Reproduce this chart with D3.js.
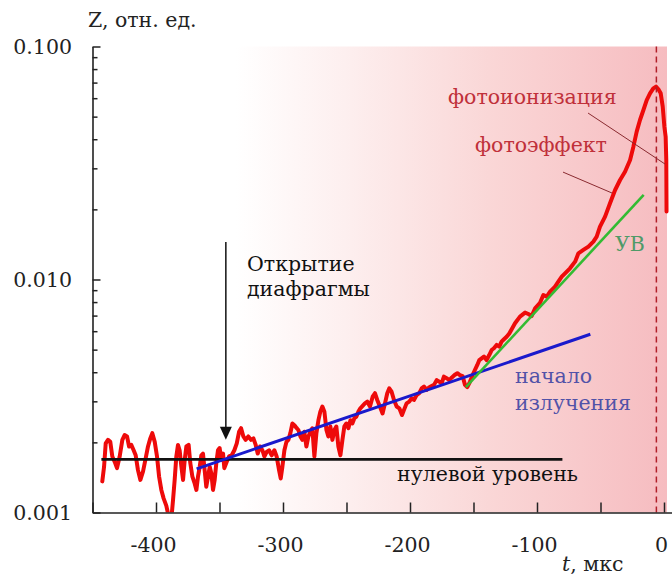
<!DOCTYPE html>
<html>
<head>
<meta charset="utf-8">
<script src="https://cdn.jsdelivr.net/npm/d3@7"></script>
<style>
  html, body { margin: 0; padding: 0; background: #fff; }
  svg { display: block; }
</style>
</head>
<body>
<svg id="chart" width="672" height="575"></svg>
<script>
// ---- data ----
const redT = [-442.3,-440.9,-439.6,-437.8,-436.0,-434.4,-432.5,-430.7,-428.6,-426.5,-424.7,-422.8,-421.2,-419.4,-417.6,-416.0,-414.2,-412.3,-410.2,-408.1,-406.3,-404.5,-402.9,-401.0,-399.2,-397.6,-395.8,-394.0,-391.9,-389.8,-387.9,-386.6,-385.3,-384.0,-382.7,-381.4,-380.0,-378.7,-377.4,-376.1,-374.3,-373.0,-371.4,-369.5,-368.2,-366.9,-365.6,-364.3,-363.0,-361.7,-360.4,-359.0,-357.7,-356.4,-355.1,-353.8,-352.5,-351.2,-349.9,-348.5,-347.2,
-346.2,-344.3,-342.5,-340.4,-338.3,-336.4,-334.6,-333.0,-331.2,-329.4,-327.3,-325.2,-323.3,-321.5,-319.9,-318.1,-316.2,-314.7,-312.8,-311.0,-308.9,-306.8,-305.0,-303.1,-301.8,-300.5,-298.9,-297.3,-295.8,-294.2,-292.6,-291.0,-289.2,-287.9,-286.3,-284.7,-283.2,-281.6,-280.0,-278.4,-276.9,-275.3,-273.7,-272.1,-270.6,-269.0,-267.4,-265.8,-264.3,-262.7,-261.1,-259.5,-258.0,-256.4,-254.8,-253.2,-251.7,-250.1,-248.5,-246.9,-245.4,-243.8,-242.2,-240.6,-239.1,
-235.5,-233.6,-231.5,-229.4,-227.6,-225.8,-223.7,-221.6,-219.7,-217.9,-216.3,-214.5,-212.6,-210.5,-208.4,-206.3,-204.8,-202.7,-200.6,-198.7,-196.9,-194.8,-192.7,-190.8,-189.0,-186.9,-184.8,-183.0,-181.1,-179.0,-176.9,-175.1,-173.3,-171.2,-169.1,-167.0,-164.9,-162.7,-160.7,-158.6,-156.7,-154.9,-152.8,-150.7,-148.9,-147.0,-145.4,-143.6,-141.8,-139.7,-137.6,-135.7,-133.9,-131.8,-129.7,-127.9,-126.0,-123.9,-121.8,
-117.3,-113.4,-109.4,-106.8,-104.2,-101.5,-97.6,-95.0,-92.3,-89.7,-85.8,-83.2,-80.5,-77.9,-74.0,-70.0,-67.4,-63.5,-59.5,-55.6,-53.0,-50.4,-46.4,-42.5,-38.5,-34.6,-30.7,-26.7,-24.1,-21.5,-18.9,-16.2,-13.6,-11.0,-8.4,-6.3,-4.4,-2.6,-1.0,0.3,1.3,1.8,2.0];
const redZ = [0.00136,0.00157,0.00198,0.00205,0.00201,0.00174,0.00165,0.00155,0.00174,0.00205,0.00215,0.00212,0.00192,0.00195,0.00185,0.00176,0.00152,0.00138,0.00150,0.00171,0.00192,0.00208,0.00219,0.00201,0.00174,0.00143,0.00125,0.00115,0.00107,0.00095,0.00094,0.00113,0.00138,0.00174,0.00195,0.00185,0.00157,0.00138,0.00168,0.00192,0.00195,0.00163,0.00143,0.00133,0.00125,0.00143,0.00157,0.00176,0.00179,0.00152,0.00129,0.00143,0.00157,0.00147,0.00125,0.00138,0.00163,0.00185,0.00189,0.00168,0.00179,
0.00155,0.00165,0.00174,0.00176,0.00185,0.00198,0.00222,0.00230,0.00212,0.00205,0.00212,0.00205,0.00208,0.00195,0.00179,0.00192,0.00185,0.00174,0.00182,0.00185,0.00176,0.00185,0.00174,0.00152,0.00140,0.00157,0.00185,0.00201,0.00205,0.00219,0.00241,0.00237,0.00230,0.00226,0.00212,0.00205,0.00222,0.00192,0.00212,0.00222,0.00230,0.00174,0.00219,0.00249,0.00271,0.00285,0.00271,0.00226,0.00212,0.00234,0.00205,0.00226,0.00234,0.00192,0.00176,0.00205,0.00234,0.00241,0.00230,0.00249,0.00241,0.00254,0.00258,0.00271,0.00280,
0.00294,0.00299,0.00285,0.00314,0.00325,0.00304,0.00285,0.00266,0.00294,0.00325,0.00341,0.00330,0.00304,0.00285,0.00280,0.00262,0.00275,0.00294,0.00299,0.00309,0.00304,0.00319,0.00325,0.00341,0.00347,0.00336,0.00345,0.00349,0.00353,0.00370,0.00364,0.00358,0.00383,0.00377,0.00370,0.00380,0.00389,0.00396,0.00389,0.00385,0.00353,0.00345,0.00364,0.00389,0.00409,0.00430,0.00451,0.00459,0.00467,0.00451,0.00474,0.00498,0.00507,0.00524,0.00515,0.00541,0.00554,0.00568,0.00587,
0.00649,0.00693,0.00721,0.00711,0.00697,0.00752,0.00795,0.00858,0.00844,0.00887,0.00932,0.00979,0.01028,0.01063,0.01117,0.01193,0.01295,0.01339,0.01384,0.01453,0.01527,0.01686,0.01861,0.02123,0.02422,0.02673,0.02902,0.03258,0.03716,0.0431,0.04837,0.0534,0.0589,0.06295,0.06613,0.06724,0.06548,0.06295,0.05519,0.04529,0.04103,0.0326,0.0196];

const zeroT = [-443, -80];        const zeroZ = [0.00169, 0.00169];
const blueT = [-368, -58];        const blueZ = [0.00154, 0.00582];
const greenT = [-156, -16];       const greenZ = [0.00345, 0.0231];
const markerT = -6;               // dashed vertical line
const arrowT = -345;              const arrowZ = [0.0145, 0.00205];
const leader1T = [-59.8, 0.8];    const leader1Z = [0.0518, 0.0313];
const leader2T = [-79.5, -40.9];  const leader2Z = [0.0289, 0.0235];

const xTicks = [-450,-400,-350,-300,-250,-200,-150,-100,-50,0];
const xLabels = [-400,-300,-200,-100,0];
const yMajor = [0.001, 0.01, 0.1];
const yLabels = ["0.001", "0.010", "0.100"];
const yMinor = [0.002,0.003,0.004,0.005,0.006,0.007,0.008,0.009,0.02,0.03,0.04,0.05,0.06,0.07,0.08,0.09];

// ---- drawing ----
const FONT = "DejaVu Serif";
const FS = 20.5;
const svg = d3.select("#chart");
const x = d3.scaleLinear().domain([-450, 6.3]).range([92.5, 672]);
const y = d3.scaleLog().domain([0.001, 0.1]).range([512.5, 46.5]);

const defs = svg.append("defs");
const grad = defs.append("linearGradient").attr("id", "bg")
  .attr("gradientUnits", "userSpaceOnUse")
  .attr("x1", 92.5).attr("x2", 667).attr("y1", 0).attr("y2", 0);
[[0, "#ffffff"], [0.25, "#ffffff"], [0.45, "#fdeeee"], [0.7, "#fad6d6"], [1, "#f6bcc0"]]
  .forEach(([o, c]) => grad.append("stop").attr("offset", o).attr("stop-color", c));
defs.append("clipPath").attr("id", "clip").append("rect")
  .attr("x", 92.5).attr("y", 30).attr("width", 580).attr("height", 482.5);

svg.append("rect").attr("x", 92.5).attr("y", 46.5)
  .attr("width", 667 - 92.5).attr("height", 512.5 - 46.5).attr("fill", "url(#bg)");

const line = d3.line().x(d => x(d[0])).y(d => y(d[1]));
const zip = (a, b) => a.map((v, i) => [v, b[i]]);

const plot = svg.append("g").attr("clip-path", "url(#clip)");
plot.append("path").datum(zip(redT, redZ)).attr("d", line)
  .attr("fill", "none").attr("stroke", "#ee0a0a").attr("stroke-width", 4)
  .attr("stroke-linejoin", "round").attr("stroke-linecap", "round");

plot.append("path").datum(zip(zeroT, zeroZ)).attr("d", line)
  .attr("stroke", "#111").attr("stroke-width", 2.6).attr("fill", "none");
plot.append("path").datum(zip(blueT, blueZ)).attr("d", line)
  .attr("stroke", "#1a1acc").attr("stroke-width", 3).attr("fill", "none");
plot.append("path").datum(zip(greenT, greenZ)).attr("d", line)
  .attr("stroke", "#33bb33").attr("stroke-width", 2.6).attr("fill", "none");

svg.append("line").attr("x1", x(markerT)).attr("x2", x(markerT))
  .attr("y1", y(0.1)).attr("y2", y(0.001))
  .attr("stroke", "#b01e28").attr("stroke-width", 1.5).attr("stroke-dasharray", "6,4");

[[leader1T, leader1Z], [leader2T, leader2Z]].forEach(([t, z]) => {
  svg.append("path").datum(zip(t, z)).attr("d", line)
    .attr("stroke", "#8a2a30").attr("stroke-width", 1).attr("fill", "none");
});

svg.append("line").attr("x1", x(arrowT)).attr("x2", x(arrowT))
  .attr("y1", y(arrowZ[0])).attr("y2", y(arrowZ[1]) - 10)
  .attr("stroke", "#111").attr("stroke-width", 1.5);
const ax = x(arrowT), ay = y(arrowZ[1]);
svg.append("path").attr("d", `M${ax - 6},${ay - 13} L${ax + 6},${ay - 13} L${ax},${ay} Z`).attr("fill", "#111");

const xAxis = d3.axisBottom(x).tickValues(xTicks).tickSize(-10).tickSizeOuter(0)
  .tickPadding(25).tickFormat(d => xLabels.includes(d) ? String(d) : "");
const gx = svg.append("g").attr("transform", "translate(0,512.5)").call(xAxis);
gx.attr("font-family", FONT).attr("font-size", FS);
gx.selectAll("text").attr("fill", "#222").attr("dx", -3);

const yAxis = d3.axisLeft(y).tickValues(yMajor).tickSize(-8).tickSizeOuter(0)
  .tickPadding(20.5).tickFormat((d, i) => yLabels[i]);
const gy = svg.append("g").attr("transform", "translate(92.5,0)").call(yAxis);
gy.attr("font-family", FONT).attr("font-size", FS);
gy.selectAll("text").attr("fill", "#222");
const gyMinor = svg.append("g").attr("transform", "translate(92.5,0)")
  .call(d3.axisLeft(y).tickValues(yMinor).tickSize(-5).tickFormat(""));
gyMinor.select(".domain").remove();
svg.selectAll(".domain").attr("stroke", "#222").attr("stroke-width", 1.6);
svg.selectAll(".tick line").attr("stroke", "#222").attr("stroke-width", 1.5);

const T = (txt, px, py, fill) => svg.append("text").attr("x", px).attr("y", py)
  .attr("font-size", FS).attr("font-family", FONT).attr("fill", fill).text(txt);
T("Z, отн. ед.", 88, 27, "#222");
T("Открытие", 247, 271, "#111");
T("диафрагмы", 247, 296, "#111");
T("нулевой уровень", 397, 481, "#111");
T("начало", 515, 383, "#5252a8");
T("излучения", 515, 410, "#5252a8");
T("УВ", 615, 251, "#4f9a68");
T("фотоионизация", 448, 104, "#c0303a");
T("фотоэффект", 475, 152, "#c0303a");
const tl = svg.append("text").attr("x", 562).attr("y", 571).attr("font-size", FS)
  .attr("font-family", FONT).attr("fill", "#222");
tl.append("tspan").attr("font-style", "italic").text("t");
tl.append("tspan").text(", мкс");
</script>
</body>
</html>
